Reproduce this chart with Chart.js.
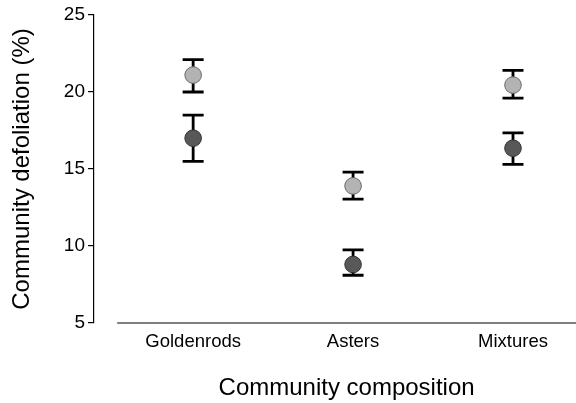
<!DOCTYPE html>
<html>
<head>
<meta charset="utf-8">
<script src="https://cdn.jsdelivr.net/npm/chart.js@4.4.1/dist/chart.umd.min.js"></script>
<style>
  html, body { margin: 0; padding: 0; background: #fff; }
  #wrap { width: 576px; height: 403px; }
</style>
</head>
<body>
<div id="wrap"><canvas id="c" width="576" height="403"></canvas></div>
<script>
// Community composition categories
const categories = ['Goldenrods', 'Asters', 'Mixtures'];
const yTicks = [5, 10, 15, 20, 25];
const xTitle = 'Community composition';

// Light series: mean and error limits
const lightMean  = [21.1, 13.9, 20.45];
const lightLower = [20.0, 13.05, 19.6];
const lightUpper = [22.1, 14.8, 21.4];

// Dark series: mean and error limits
const darkMean  = [17.0, 8.8, 16.35];
const darkLower = [15.5, 8.1, 15.3];
const darkUpper = [18.5, 9.75, 17.35];

const FONT = "'Liberation Sans', Arial, Helvetica, sans-serif";
const AXIS_START = -0.475; // where the bottom axis line begins, in x units

function pts(vals) { return vals.map((v, i) => ({ x: i, y: v })); }

// Error bars with caps, drawn beneath the points
const errorBars = {
  id: 'errorBars',
  beforeDatasetsDraw(chart) {
    const { ctx, scales: { x, y } } = chart;
    const sets = [[lightLower, lightUpper], [darkLower, darkUpper]];
    ctx.save();
    ctx.strokeStyle = '#000';
    ctx.lineWidth = 2.8;
    ctx.lineCap = 'butt';
    sets.forEach(([lo, hi]) => {
      lo.forEach((l, i) => {
        const px = x.getPixelForValue(i);
        const yl = y.getPixelForValue(l);
        const yh = y.getPixelForValue(hi[i]);
        const half = 10.5;
        ctx.beginPath();
        ctx.moveTo(px, yl); ctx.lineTo(px, yh);
        ctx.moveTo(px - half, yl); ctx.lineTo(px + half, yl);
        ctx.moveTo(px - half, yh); ctx.lineTo(px + half, yh);
        ctx.stroke();
      });
    });
    ctx.restore();
  }
};

// Bottom axis line, detached from the left axis, with its title centred under it
const baseLine = {
  id: 'baseLine',
  afterDraw(chart) {
    const { ctx, scales: { x, y } } = chart;
    const yPix = y.getPixelForValue(5);
    const x0 = x.getPixelForValue(AXIS_START);
    const x1 = chart.width;
    ctx.save();
    ctx.strokeStyle = '#000';
    ctx.lineWidth = 1.2;
    ctx.beginPath();
    ctx.moveTo(x0, yPix);
    ctx.lineTo(x1, yPix);
    ctx.stroke();
    ctx.fillStyle = '#000';
    ctx.font = '24px ' + FONT;
    ctx.textAlign = 'center';
    ctx.textBaseline = 'alphabetic';
    ctx.fillText(xTitle, (x0 + x1) / 2, yPix + 72);
    ctx.restore();
  }
};

new Chart(document.getElementById('c'), {
  type: 'scatter',
  data: {
    datasets: [
      {
        data: pts(lightMean),
        backgroundColor: '#b3b3b3',
        borderColor: '#6a6a6a',
        borderWidth: 1,
        pointRadius: 8.3,
        pointHoverRadius: 8.3
      },
      {
        data: pts(darkMean),
        backgroundColor: '#585858',
        borderColor: '#333333',
        borderWidth: 1,
        pointRadius: 8.3,
        pointHoverRadius: 8.3
      }
    ]
  },
  options: {
    responsive: false,
    animation: false,
    events: [],
    layout: { autoPadding: false, padding: { top: 15, right: 0, left: 0, bottom: 0 } },
    plugins: { legend: { display: false }, tooltip: { enabled: false } },
    scales: {
      x: {
        type: 'linear',
        min: -0.62,
        max: 2.394,
        afterBuildTicks(s) { s.ticks = categories.map((_, i) => ({ value: i })); },
        afterFit(s) { s.height = 80; s.paddingLeft = 0; s.paddingRight = 0; },
        grid: { display: false },
        border: { display: false },
        ticks: {
          color: '#000',
          font: { family: FONT, size: 18.5 },
          padding: 0,
          callback: (v) => categories[v]
        },
        title: { display: false }
      },
      y: {
        min: 5,
        max: 25,
        afterBuildTicks(s) { s.ticks = yTicks.map(v => ({ value: v })); },
        afterFit(s) { s.width = 94; s.paddingTop = 0; s.paddingBottom = 0; },
        grid: {
          display: true,
          drawOnChartArea: false,
          drawTicks: true,
          tickLength: 6,
          color: '#000',
          lineWidth: 1.2
        },
        border: { display: true, color: '#000', width: 1.2 },
        ticks: {
          color: '#000',
          font: { family: FONT, size: 19 },
          padding: 3
        },
        title: {
          display: true,
          text: 'Community defoliation (%)',
          color: '#000',
          font: { family: FONT, size: 24 },
          padding: { top: 8, bottom: 0 }
        }
      }
    }
  },
  plugins: [errorBars, baseLine]
});
</script>
</body>
</html>
